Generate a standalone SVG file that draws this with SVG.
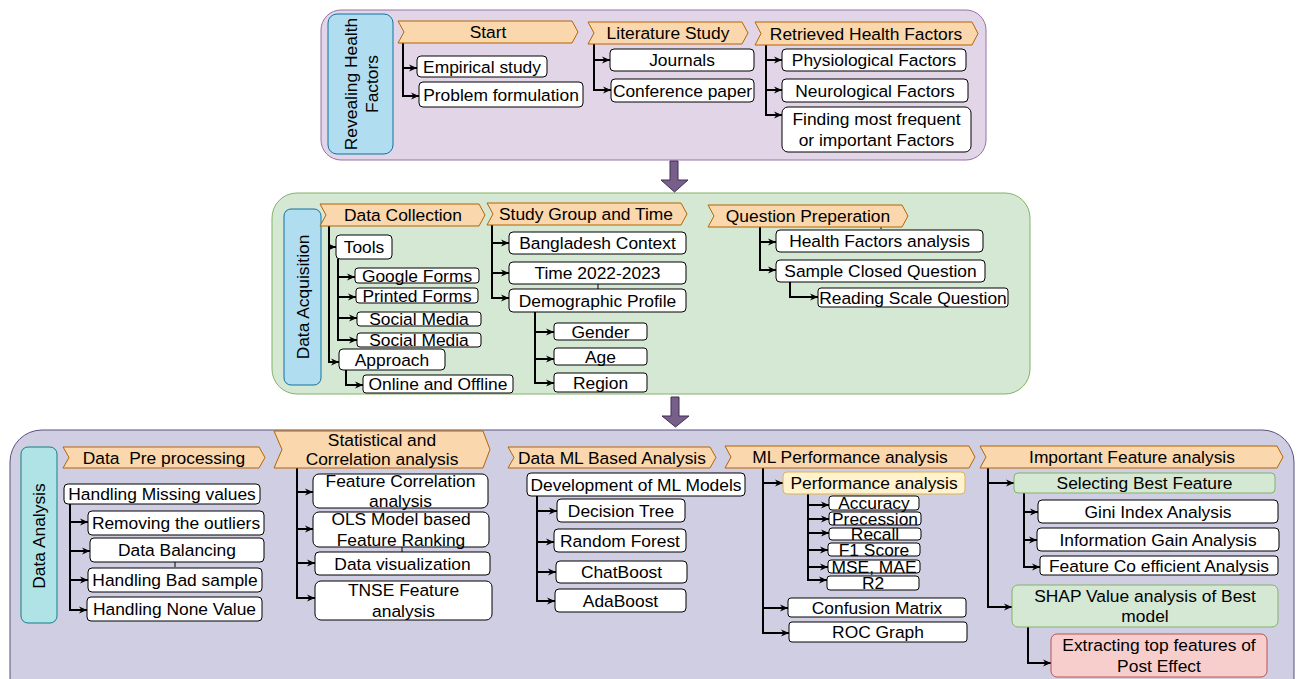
<svg xmlns="http://www.w3.org/2000/svg" width="1298" height="679" viewBox="0 0 1298 679">
<style>
.box{fill:#fff;stroke:#000;stroke-width:1}
.step{fill:#fad7ac;stroke:#b46504;stroke-width:1}
.lbl{fill:#b1ddf0;stroke:#10739e;stroke-width:1}
.grn{fill:#d5e8d4;stroke:#82b366;stroke-width:1}
.t{font-family:"Liberation Sans",Arial,sans-serif;font-size:17.4px;fill:#000;text-anchor:middle;white-space:pre}
.c{fill:none;stroke:#000;stroke-width:2;marker-end:url(#ah)}
.thin{fill:none;stroke:#000;stroke-width:1}
.big{fill:#76608a;stroke:#432d57;stroke-width:1}
</style>
<defs>
<marker id="ah" viewBox="0 0 10 10" refX="10" refY="5" markerWidth="8" markerHeight="8" markerUnits="userSpaceOnUse" orient="auto">
<path d="M0,0.5 L10,5 L0,9.5 L3,5 z" fill="#000"/>
</marker>
</defs>

<!-- panels -->
<g id="panel-top">
<rect x="321" y="10" width="665" height="150" rx="20" fill="#e1d5e7" stroke="#9673a6"/>
<rect class="lbl" x="328" y="14" width="65" height="140" rx="9"/>
<text class="t" transform="translate(361,84) rotate(-90)"><tspan x="0" y="-4.5">Revealing Health</tspan><tspan x="0" y="16.5">Factors</tspan></text>
</g>
<g id="panel-mid">
<rect x="272" y="193" width="758" height="201" rx="25" fill="#d5e8d4" stroke="#82b366"/>
<rect class="lbl" x="284" y="209" width="37" height="176" rx="7"/>
<text class="t" transform="translate(302.5,297) rotate(-90)" x="0" y="6">Data Acquisition</text>
</g>
<g id="panel-bot">
<rect x="10" y="430" width="1284" height="280" rx="32" fill="#d0cee2" stroke="#56517e"/>
<rect x="21" y="447" width="36" height="176" rx="7" fill="#b0e3e6" stroke="#0e8088"/>
<text class="t" transform="translate(39,536) rotate(-90)" x="0" y="6">Data Analysis</text>
</g>

<!-- big arrows -->
<g id="flow-arrows">
<path class="big" d="M670 161 H678 V180 H688 L674.5 192 L661 180 H670 Z"/>
<path class="big" d="M671 397 H679 V416 H689 L675.5 427 L662 416 H671 Z"/>
</g>

<!-- connectors -->
<g id="connectors">
<path class="c" d="M403 43 V68 H417"/>
<path class="c" d="M403 43 V96 H419"/>
<path class="c" d="M594 44 V60 H610"/>
<path class="c" d="M594 44 V90 H611"/>
<path class="c" d="M766 45 V60 H782"/>
<path class="c" d="M766 45 V90 H782"/>
<path class="c" d="M766 45 V115 H782"/>

<path class="c" d="M329 226 V247 H336"/>
<path class="c" d="M329 226 V362 H339"/>
<path class="c" d="M338 259 V277 H355"/>
<path class="c" d="M338 259 V297 H356"/>
<path class="c" d="M338 259 V318 H357"/>
<path class="c" d="M338 259 V340 H357"/>
<path class="c" d="M346 370 V385 H363"/>
<path class="c" d="M492 225 V243 H509"/>
<path class="c" d="M492 225 V273 H509"/>
<path class="c" d="M492 225 V298 H509"/>
<path class="c" d="M535 312 V332 H554"/>
<path class="c" d="M535 312 V359 H554"/>
<path class="c" d="M535 312 V383 H554"/>
<path class="c" d="M760 227 V242 H776"/>
<path class="c" d="M760 227 V270 H776"/>
<path class="c" d="M790 282 V297 H818"/>
<path class="thin" d="M881 229 V226 H808"/>
<path class="thin" d="M598 284 V289"/>

<path class="c" d="M70 504 V522 H88"/>
<path class="c" d="M70 504 V551 H90"/>
<path class="c" d="M70 504 V580 H88"/>
<path class="c" d="M70 504 V610 H87"/>
<path class="thin" d="M175 562 V567"/>
<path class="c" d="M297 468 V492 H313"/>
<path class="c" d="M297 468 V529 H313"/>
<path class="c" d="M297 468 V563 H315"/>
<path class="c" d="M297 468 V598 H315"/>
<path class="thin" d="M402 547 V552"/>
<path class="c" d="M537 496 V511 H557"/>
<path class="c" d="M537 496 V542 H554"/>
<path class="c" d="M537 496 V572 H556"/>
<path class="c" d="M537 496 V601 H555"/>
<path class="c" d="M763 468 V483 H783"/>
<path class="c" d="M763 468 V608 H788"/>
<path class="c" d="M763 468 V633 H789"/>
<path class="c" d="M808 494 V505 H829"/>
<path class="c" d="M808 494 V519 H829"/>
<path class="c" d="M808 494 V533 H829"/>
<path class="c" d="M808 494 V550 H828"/>
<path class="c" d="M808 494 V567 H828"/>
<path class="c" d="M808 494 V580 H827"/>
<path class="c" d="M988 468 V483 H1014"/>
<path class="c" d="M988 468 V607 H1012"/>
<path class="c" d="M1024 493 V512 H1038"/>
<path class="c" d="M1024 493 V540 H1037"/>
<path class="c" d="M1024 493 V567 H1040"/>
<path class="c" d="M1028 627 V663 H1051"/>
</g>

<!-- top panel nodes -->
<g id="start"><path class="step" d="M398 21 H572 L578 32 L572 43 H398 L404 32 Z"/><text class="t" x="488" y="38">Start</text></g>
<g id="literature-study"><path class="step" d="M588 22 H742 L748 33 L742 44 H588 L594 33 Z"/><text class="t" x="668" y="39">Literature Study</text></g>
<g id="retrieved-health-factors"><path class="step" d="M755 22 H972 L978 33.5 L972 45 H755 L761 33.5 Z"/><text class="t" x="866" y="39.5">Retrieved Health Factors</text></g>
<g id="empirical-study"><rect class="box" x="417" y="56" width="130" height="21" rx="4"/><text class="t" x="482" y="72.5">Empirical study</text></g>
<g id="problem-formulation"><rect class="box" x="419" y="82" width="164" height="25" rx="4"/><text class="t" x="501" y="100.5">Problem formulation</text></g>
<g id="journals"><rect class="box" x="610" y="49" width="144" height="22" rx="4"/><text class="t" x="682" y="66">Journals</text></g>
<g id="conference-paper"><rect class="box" x="611" y="79" width="143" height="23" rx="4"/><text class="t" x="682.5" y="96.5">Conference paper</text></g>
<g id="physiological"><rect class="box" x="782" y="49" width="184" height="22" rx="4"/><text class="t" x="874" y="66">Physiological Factors</text></g>
<g id="neurological"><rect class="box" x="782" y="79" width="186" height="23" rx="4"/><text class="t" x="875" y="96.5">Neurological Factors</text></g>
<g id="finding"><rect class="box" x="782" y="107" width="189" height="45" rx="6"/><text class="t" x="876.5" y="125">Finding most frequent</text><text class="t" x="876.5" y="146">or important Factors</text></g>

<!-- middle panel nodes -->
<g id="data-collection"><path class="step" d="M320 204 H479 L485 215 L479 226 H320 L326 215 Z"/><text class="t" x="403" y="221">Data Collection</text></g>
<g id="study-group"><path class="step" d="M487 203 H681 L687 214 L681 225 H487 L493 214 Z"/><text class="t" x="586" y="220">Study Group and Time</text></g>
<g id="question-prep"><path class="step" d="M708 205 H902 L908 216 L902 227 H708 L714 216 Z"/><text class="t" x="808" y="222">Question Preperation</text></g>
<g id="tools"><rect class="box" x="336" y="235" width="56" height="24" rx="4"/><text class="t" x="364" y="253">Tools</text></g>
<g id="google-forms"><rect class="box" x="355" y="268" width="124" height="15" rx="3"/><text class="t" x="417" y="281.5">Google Forms</text></g>
<g id="printed-forms"><rect class="box" x="356" y="288" width="122" height="15" rx="3"/><text class="t" x="417" y="301.5">Printed Forms</text></g>
<g id="social-media-1"><rect class="box" x="357" y="312" width="124" height="14" rx="3"/><text class="t" x="419" y="325">Social Media</text></g>
<g id="social-media-2"><rect class="box" x="357" y="333" width="124" height="14" rx="3"/><text class="t" x="419" y="346">Social Media</text></g>
<g id="approach"><rect class="box" x="339" y="349" width="106" height="21" rx="4"/><text class="t" x="392" y="365.5">Approach</text></g>
<g id="online-offline"><rect class="box" x="363" y="375" width="150" height="18" rx="3"/><text class="t" x="438" y="390">Online and Offline</text></g>
<g id="bangladesh"><rect class="box" x="509" y="232" width="177" height="22" rx="4"/><text class="t" x="597.5" y="249">Bangladesh Context</text></g>
<g id="time"><rect class="box" x="509" y="262" width="177" height="22" rx="4"/><text class="t" x="597.5" y="279">Time 2022-2023</text></g>
<g id="demographic"><rect class="box" x="509" y="289" width="177" height="23" rx="4"/><text class="t" x="597.5" y="306.5">Demographic Profile</text></g>
<g id="gender"><rect class="box" x="554" y="323" width="93" height="17" rx="3"/><text class="t" x="600.5" y="337.5">Gender</text></g>
<g id="age"><rect class="box" x="554" y="348" width="93" height="17" rx="3"/><text class="t" x="600.5" y="362.5">Age</text></g>
<g id="region"><rect class="box" x="554" y="373" width="93" height="19" rx="3"/><text class="t" x="600.5" y="388.5">Region</text></g>
<g id="health-factors-analysis"><rect class="box" x="776" y="230" width="207" height="22" rx="4"/><text class="t" x="879.5" y="247">Health Factors analysis</text></g>
<g id="sample-closed"><rect class="box" x="776" y="260" width="209" height="22" rx="4"/><text class="t" x="880.5" y="277">Sample Closed Question</text></g>
<g id="reading-scale"><rect class="box" x="818" y="288" width="190" height="19" rx="3"/><text class="t" x="913" y="303.5">Reading Scale Question</text></g>

<!-- bottom panel nodes -->
<g id="data-preprocessing"><path class="step" d="M63 447 H259 L265 457.5 L259 468 H63 L69 457.5 Z"/><text class="t" x="164" y="463.5">Data  Pre processing</text></g>
<g id="missing"><rect class="box" x="64" y="484" width="196" height="20" rx="4"/><text class="t" x="162" y="500">Handling Missing values</text></g>
<g id="outliers"><rect class="box" x="88" y="511" width="176" height="24" rx="4"/><text class="t" x="176" y="529">Removing the outliers</text></g>
<g id="balancing"><rect class="box" x="90" y="538" width="174" height="24" rx="4"/><text class="t" x="177" y="556">Data Balancing</text></g>
<g id="bad-sample"><rect class="box" x="88" y="568" width="174" height="24" rx="4"/><text class="t" x="175" y="586">Handling Bad sample</text></g>
<g id="none-value"><rect class="box" x="87" y="597" width="175" height="24" rx="4"/><text class="t" x="174.5" y="615">Handling None Value</text></g>

<g id="stat-corr"><path class="step" d="M274 431 H483 L490 449.5 L483 468 H274 L282 449.5 Z"/><text class="t" x="382" y="446">Statistical and</text><text class="t" x="382" y="465">Correlation analysis</text></g>
<g id="feature-corr"><rect class="box" x="313" y="474" width="175" height="34" rx="6"/><text class="t" x="400.5" y="487">Feature Correlation</text><text class="t" x="400.5" y="507">analysis</text></g>
<g id="ols"><rect class="box" x="313" y="512" width="176" height="35" rx="6"/><text class="t" x="401" y="525">OLS Model based</text><text class="t" x="401" y="546">Feature Ranking</text></g>
<g id="data-vis"><rect class="box" x="315" y="552" width="175" height="23" rx="4"/><text class="t" x="402.5" y="569.5">Data visualization</text></g>
<g id="tnse"><rect class="box" x="315" y="581" width="177" height="39" rx="6"/><text class="t" x="403.5" y="596">TNSE Feature</text><text class="t" x="403.5" y="617">analysis</text></g>

<g id="data-ml"><path class="step" d="M508 447 H710 L716 457.5 L710 468 H508 L514 457.5 Z"/><text class="t" x="612" y="463.5">Data ML Based Analysis</text></g>
<g id="dev-ml"><rect class="box" x="527" y="473" width="218" height="23" rx="4"/><text class="t" x="636" y="490.5">Development of ML Models</text></g>
<g id="decision-tree"><rect class="box" x="557" y="499" width="128" height="23" rx="4"/><text class="t" x="621" y="516.5">Decision Tree</text></g>
<g id="random-forest"><rect class="box" x="554" y="529" width="132" height="23" rx="4"/><text class="t" x="620" y="546.5">Random Forest</text></g>
<g id="chatboost"><rect class="box" x="556" y="561" width="131" height="22" rx="4"/><text class="t" x="621.5" y="578">ChatBoost</text></g>
<g id="adaboost"><rect class="box" x="555" y="589" width="131" height="23" rx="4"/><text class="t" x="620.5" y="606.5">AdaBoost</text></g>

<g id="ml-perf"><path class="step" d="M725 446 H969 L975 457 L969 468 H725 L731 457 Z"/><text class="t" x="850" y="463">ML Performance analysis</text></g>
<g id="perf-analysis"><rect x="783" y="472" width="182" height="22" rx="4" fill="#fff2cc" stroke="#d6b656"/><text class="t" x="874" y="489">Performance analysis</text></g>
<g id="accuracy"><rect class="box" x="829" y="496" width="90" height="14" rx="3"/><text class="t" x="874" y="509">Accuracy</text></g>
<g id="precession"><rect class="box" x="829" y="512" width="92" height="13" rx="3"/><text class="t" x="875" y="524.5">Precession</text></g>
<g id="recall"><rect class="box" x="829" y="528" width="92" height="12" rx="3"/><text class="t" x="875" y="540">Recall</text></g>
<g id="f1"><rect class="box" x="828" y="543" width="92" height="13" rx="3"/><text class="t" x="874" y="555.5">F1 Score</text></g>
<g id="mse"><rect class="box" x="828" y="560" width="92" height="13" rx="3"/><text class="t" x="874" y="572.5">MSE, MAE</text></g>
<g id="r2"><rect class="box" x="827" y="576" width="92" height="14" rx="3"/><text class="t" x="873" y="589">R2</text></g>
<g id="confusion"><rect class="box" x="788" y="598" width="178" height="19" rx="3"/><text class="t" x="877" y="613.5">Confusion Matrix</text></g>
<g id="roc"><rect class="box" x="789" y="622" width="178" height="20" rx="3"/><text class="t" x="878" y="638">ROC Graph</text></g>

<g id="important-feature"><path class="step" d="M980 446 H1277 L1283 457 L1277 468 H980 L986 457 Z"/><text class="t" x="1132" y="463">Important Feature analysis</text></g>
<g id="selecting"><rect class="grn" x="1014" y="473" width="261" height="20" rx="4"/><text class="t" x="1144.5" y="489">Selecting Best Feature</text></g>
<g id="gini"><rect class="box" x="1038" y="500" width="240" height="23" rx="4"/><text class="t" x="1158" y="517.5">Gini Index Analysis</text></g>
<g id="info-gain"><rect class="box" x="1037" y="528" width="242" height="23" rx="4"/><text class="t" x="1158" y="545.5">Information Gain Analysis</text></g>
<g id="coefficient"><rect class="box" x="1040" y="556" width="238" height="19" rx="3"/><text class="t" x="1159" y="571.5">Feature Co efficient Analysis</text></g>
<g id="shap"><rect class="grn" x="1012" y="585" width="266" height="42" rx="6"/><text class="t" x="1145" y="601.5">SHAP Value analysis of Best</text><text class="t" x="1145" y="622">model</text></g>
<g id="extracting"><rect x="1051" y="634" width="216" height="43" rx="6" fill="#f8cecc" stroke="#b85450"/><text class="t" x="1159" y="651">Extracting top features of</text><text class="t" x="1159" y="672">Post Effect</text></g>
</svg>
